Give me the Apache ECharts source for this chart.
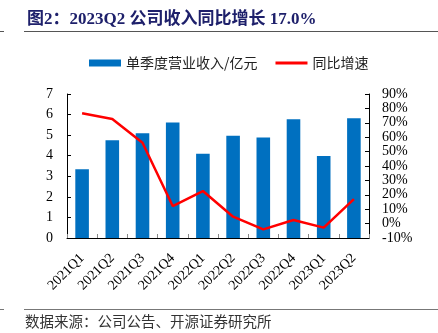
<!DOCTYPE html>
<html>
<head>
<meta charset="utf-8">
<script src="https://cdn.jsdelivr.net/npm/echarts@6/dist/echarts.min.js"></script>
<style>
  html, body { margin: 0; padding: 0; background: #fff; }
  #chart { width: 438px; height: 333px; }
</style>
</head>
<body>
<div id="chart"></div>
<script>
// Quarterly revenue (100M CNY) and year-over-year growth (%)
const quarters = ['2021Q1', '2021Q2', '2021Q3', '2021Q4', '2022Q1', '2022Q2', '2022Q3', '2022Q4', '2023Q1', '2023Q2'];
const revenue = [3.34, 4.75, 5.09, 5.62, 4.10, 4.97, 4.89, 5.77, 3.99, 5.82];
const yoyGrowth = [76.6, 72.6, 56.2, 12.2, 22.6, 4.8, -4.0, 2.5, -2.8, 17.0];
const revenueTicks = { min: 0, max: 7, interval: 1 };
const growthTicks = { min: -10, max: 90, interval: 10 };

const titleText = '图2：2023Q2 公司收入同比增长 17.0%';
const sourceText = '数据来源：公司公告、开源证券研究所';
const revenueName = '单季度营业收入/亿元';
const growthName = '同比增速';

const serif = '"Liberation Serif", "Times New Roman", "Noto Sans CJK SC", serif';
const cjk = '"Noto Sans CJK SC", sans-serif';

const chart = echarts.init(document.getElementById('chart'), null, { renderer: 'canvas' });

chart.setOption({
  animation: false,
  backgroundColor: '#fff',
  grid: { left: 67, right: 69, top: 94, bottom: 95, containLabel: false },
  legend: {
    left: 84, top: 51,
    itemWidth: 32, itemHeight: 7, itemGap: 18,
    textStyle: { fontFamily: cjk, fontSize: 14, color: '#222' },
    data: [
      { name: revenueName, icon: 'rect' },
      { name: growthName, icon: 'path://M0,0H32V3H0Z' }
    ]
  },
  xAxis: {
    type: 'category',
    data: quarters,
    axisLine: { lineStyle: { color: '#000', width: 1 } },
    axisTick: { show: true, inside: true, length: 4, lineStyle: { color: '#888' } },
    axisLabel: { rotate: 45, margin: 18, fontFamily: serif, fontSize: 14, color: '#000' },
    splitLine: { show: false }
  },
  yAxis: [
    {
      type: 'value',
      min: revenueTicks.min, max: revenueTicks.max, interval: revenueTicks.interval,
      axisLine: { show: true, lineStyle: { color: '#000' } },
      axisTick: { show: true, inside: true, length: 4, lineStyle: { color: '#000' } },
      axisLabel: { margin: 14, fontFamily: serif, fontSize: 14, color: '#000' },
      splitLine: { show: false }
    },
    {
      type: 'value',
      min: growthTicks.min, max: growthTicks.max, interval: growthTicks.interval,
      axisLine: { show: true, lineStyle: { color: '#000' } },
      axisTick: { show: true, inside: true, length: 4, lineStyle: { color: '#000' } },
      axisLabel: { margin: 13, fontFamily: serif, fontSize: 14, color: '#000', formatter: '{value}%' },
      splitLine: { show: false }
    }
  ],
  series: [
    {
      name: revenueName,
      type: 'bar',
      yAxisIndex: 0,
      data: revenue,
      barWidth: '45%',
      itemStyle: { color: '#0070C0' }
    },
    {
      name: growthName,
      type: 'line',
      yAxisIndex: 1,
      data: yoyGrowth,
      symbol: 'none',
      lineStyle: { color: '#FF0000', width: 2.5 },
      itemStyle: { color: '#FF0000' },
      z: 5
    }
  ],
  graphic: [
    {
      type: 'text', left: 27, top: 11,
      style: { text: titleText, font: 'bold 17px ' + serif, fill: '#1E206B' }
    },
    { type: 'line', shape: { x1: 0, y1: 31.5, x2: 4, y2: 31.5 }, style: { stroke: '#555', lineWidth: 1 } },
    { type: 'line', shape: { x1: 24, y1: 31.5, x2: 438, y2: 31.5 }, style: { stroke: '#555', lineWidth: 1 } },
    { type: 'line', shape: { x1: 0, y1: 309.5, x2: 4, y2: 309.5 }, style: { stroke: '#777', lineWidth: 1 } },
    { type: 'line', shape: { x1: 24, y1: 309.5, x2: 438, y2: 309.5 }, style: { stroke: '#777', lineWidth: 1 } },
    {
      type: 'text', left: 25, top: 314,
      style: { text: sourceText, font: '14.5px ' + cjk, fill: '#333' }
    }
  ]
});
</script>
</body>
</html>
